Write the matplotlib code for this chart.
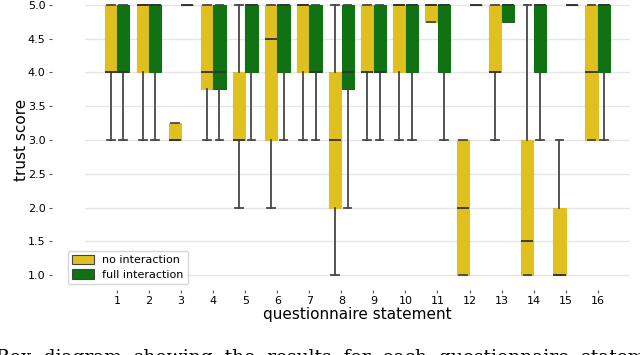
import matplotlib
matplotlib.use("Agg")
import matplotlib.pyplot as plt
from matplotlib.patches import Patch

statements = [str(i) for i in range(1, 17)]
series = ["no interaction", "full interaction"]
colors = ["#e0c020", "#107212"]

no_lo  = [3, 3, 3,    3,    2, 2,   3, 1, 3, 3, 4.75, 1, 3, 1,   1, 3]
no_q1  = [4, 4, 3,    3.75, 3, 3,   4, 2, 4, 4, 4.75, 1, 4, 1,   1, 3]
no_med = [4, 5, 3,    4,    3, 4.5, 5, 3, 4, 5, 5,    2, 4, 1.5, 1, 4]
no_q3  = [5, 5, 3.25, 5,    4, 5,   5, 4, 5, 5, 5,    3, 5, 3,   2, 5]
no_hi  = [5, 5, 3.25, 5,    5, 5,   5, 5, 5, 5, 5,    3, 5, 5,   3, 5]

full_lo  = [3, 3, 5, 3,    3, 3, 3, 2,    3, 3, 3, 5, 4.75, 3, 5, 3]
full_q1  = [4, 4, 5, 3.75, 4, 4, 4, 3.75, 4, 4, 4, 5, 4.75, 4, 5, 4]
full_med = [4, 5, 5, 4,    5, 5, 4, 4,    4, 5, 5, 5, 5,    5, 5, 5]
full_q3  = [5, 5, 5, 5,    5, 5, 5, 5,    5, 5, 5, 5, 5,    5, 5, 5]
full_hi  = [5, 5, 5, 5,    5, 5, 5, 5,    5, 5, 5, 5, 5,    5, 5, 5]

yticks = [1.0, 1.5, 2.0, 2.5, 3.0, 3.5, 4.0, 4.5, 5.0]

fig = plt.figure(figsize=(6.4, 3.55), dpi=100)
ax = fig.add_axes([0.1328, 0.2158, 0.8512, 0.7797])

def make_stats(lo, q1, med, q3, hi):
    return [dict(whislo=a, q1=b, med=c, q3=d, whishi=e, fliers=[])
            for a, b, c, d, e in zip(lo, q1, med, q3, hi)]

groups = [
    make_stats(no_lo, no_q1, no_med, no_q3, no_hi),
    make_stats(full_lo, full_q1, full_med, full_q3, full_hi),
]
offsets = [-0.195, 0.195]
for stats, off, col in zip(groups, offsets, colors):
    pos = [i + off for i in range(len(statements))]
    ax.bxp(stats, positions=pos, widths=0.38, patch_artist=True,
           showfliers=False, capwidths=0.24,
           boxprops=dict(facecolor=col, edgecolor=col, linewidth=0.8),
           whiskerprops=dict(color="#474747", linewidth=1.3),
           capprops=dict(color="#474747", linewidth=1.3),
           medianprops=dict(color="#333333", linewidth=1.3),
           manage_ticks=False, zorder=3)

ax.set_xlim(-1, 16)
ax.set_ylim(0.95, 5.05)
ax.set_xticks(range(len(statements)))
ax.set_xticklabels(statements)
ax.set_yticks(yticks)
ax.set_yticklabels([f"{v:.1f}" for v in yticks])
ax.yaxis.grid(True, color="#e6e6e6", linewidth=1.0, zorder=0)
ax.set_axisbelow(True)
for s in ["top", "right"]:
    ax.spines[s].set_visible(False)
ax.spines["left"].set_position(("outward", 24))
ax.spines["bottom"].set_position(("outward", 8))
ax.spines["left"].set_visible(False)
ax.spines["bottom"].set_visible(False)
ax.tick_params(axis="both", labelsize=8, length=2.5, width=0.8, color="#555555", pad=2)
ax.set_ylabel("trust score", fontsize=11, labelpad=-1)
ax.set_xlabel("questionnaire statement", fontsize=11, labelpad=1)

handles = [Patch(facecolor=c, edgecolor="#444444", linewidth=0.8) for c in colors]
fig.legend(handles, series, loc="upper left", bbox_to_anchor=(62 / 640, 1 - 245 / 355),
           fontsize=8, frameon=True, handlelength=2.0, handleheight=0.9,
           borderpad=0.4, labelspacing=0.35, handletextpad=0.7,
           fancybox=True, edgecolor="#cccccc")

fig.text(-0.006, -0.035, "Box  diagram  showing  the  results  for  each  questionnaire  statement",
         fontsize=13.5, family="DejaVu Serif", ha="left", va="bottom")

fig.savefig("out.png", dpi=100)
